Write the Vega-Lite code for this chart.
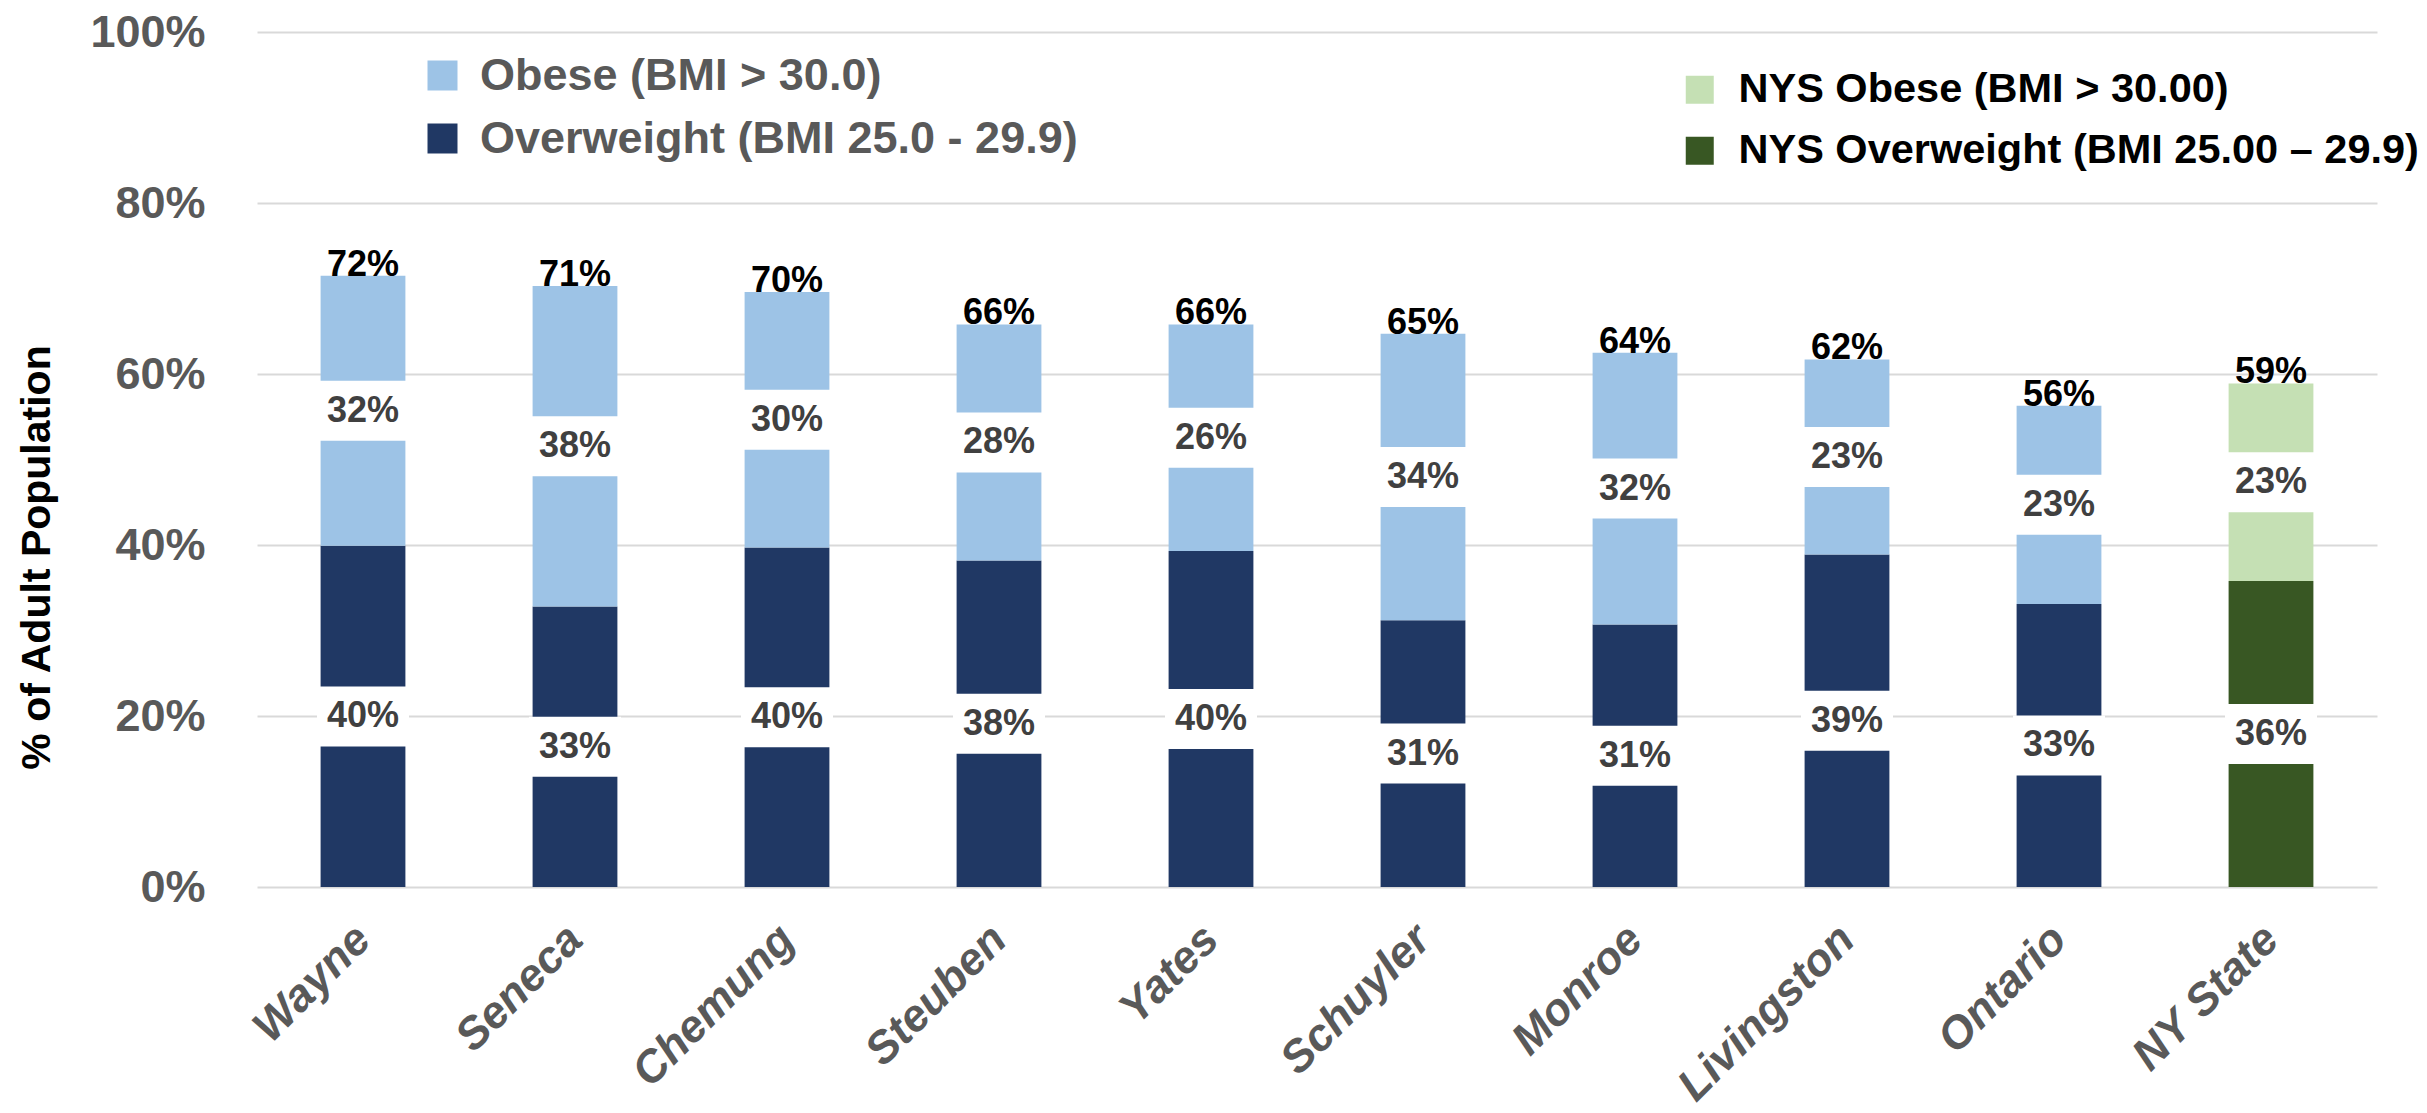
{
  "$schema": "https://vega.github.io/schema/vega-lite/v6.json",
  "width": 2120,
  "height": 855,
  "autosize": {"type": "none"},
  "padding": {"left": 257, "top": 32, "right": 50, "bottom": 226},
  "background": "white",
  "config": {"view": {"stroke": null}},
  "data": {
    "values": [
      {"county": "Wayne", "category": "Overweight (BMI 25.0 - 29.9)", "value": 39.9, "pct": 40, "total": 72},
      {"county": "Wayne", "category": "Obese (BMI > 30.0)", "value": 31.6, "pct": 32, "total": 72},
      {"county": "Seneca", "category": "Overweight (BMI 25.0 - 29.9)", "value": 32.8, "pct": 33, "total": 71},
      {"county": "Seneca", "category": "Obese (BMI > 30.0)", "value": 37.5, "pct": 38, "total": 71},
      {"county": "Chemung", "category": "Overweight (BMI 25.0 - 29.9)", "value": 39.7, "pct": 40, "total": 70},
      {"county": "Chemung", "category": "Obese (BMI > 30.0)", "value": 29.9, "pct": 30, "total": 70},
      {"county": "Steuben", "category": "Overweight (BMI 25.0 - 29.9)", "value": 38.2, "pct": 38, "total": 66},
      {"county": "Steuben", "category": "Obese (BMI > 30.0)", "value": 27.6, "pct": 28, "total": 66},
      {"county": "Yates", "category": "Overweight (BMI 25.0 - 29.9)", "value": 39.3, "pct": 40, "total": 66},
      {"county": "Yates", "category": "Obese (BMI > 30.0)", "value": 26.5, "pct": 26, "total": 66},
      {"county": "Schuyler", "category": "Overweight (BMI 25.0 - 29.9)", "value": 31.2, "pct": 31, "total": 65},
      {"county": "Schuyler", "category": "Obese (BMI > 30.0)", "value": 33.5, "pct": 34, "total": 65},
      {"county": "Monroe", "category": "Overweight (BMI 25.0 - 29.9)", "value": 30.7, "pct": 31, "total": 64},
      {"county": "Monroe", "category": "Obese (BMI > 30.0)", "value": 31.8, "pct": 32, "total": 64},
      {"county": "Livingston", "category": "Overweight (BMI 25.0 - 29.9)", "value": 38.9, "pct": 39, "total": 62},
      {"county": "Livingston", "category": "Obese (BMI > 30.0)", "value": 22.8, "pct": 23, "total": 62},
      {"county": "Ontario", "category": "Overweight (BMI 25.0 - 29.9)", "value": 33.1, "pct": 33, "total": 56},
      {"county": "Ontario", "category": "Obese (BMI > 30.0)", "value": 23.2, "pct": 23, "total": 56},
      {"county": "NY State", "category": "NYS Overweight (BMI 25.00 – 29.9)", "value": 35.8, "pct": 36, "total": 59},
      {"county": "NY State", "category": "NYS Obese (BMI > 30.00)", "value": 23.1, "pct": 23, "total": 59}
    ]
  },
  "transform": [
    {"stack": "value", "groupby": ["county"], "sort": [{"field": "category", "order": "descending"}], "as": ["y0", "y1"]},
    {"calculate": "(datum.y0 + datum.y1) / 2", "as": "mid"},
    {"calculate": "datum.pct + '%'", "as": "pctLabel"},
    {"calculate": "datum.total + '%'", "as": "totalLabel"}
  ],
  "encoding": {
    "x": {
      "field": "county",
      "type": "nominal",
      "sort": ["Wayne", "Seneca", "Chemung", "Steuben", "Yates", "Schuyler", "Monroe", "Livingston", "Ontario", "NY State"],
      "scale": {"paddingInner": 0.6, "paddingOuter": 0.3},
      "axis": {
        "title": null,
        "domain": false,
        "ticks": false,
        "labelAngle": -45,
        "labelAlign": "right",
        "labelBaseline": "middle",
        "labelPadding": 45,
        "labelFont": "Liberation Sans",
        "labelFontSize": 45,
        "labelFontWeight": "bold",
        "labelFontStyle": "italic",
        "labelColor": "#595959",
        "labelLimit": 0
      }
    }
  },
  "layer": [
    {
      "transform": [{"filter": "datum.county !== 'NY State'"}],
      "mark": {"type": "bar"},
      "encoding": {
        "y": {
          "field": "y0",
          "type": "quantitative",
          "scale": {"domain": [0, 100], "nice": false},
          "axis": {
            "values": [0, 20, 40, 60, 80, 100],
            "labelExpr": "datum.value + '%'",
            "domain": false,
            "ticks": false,
            "grid": true,
            "gridColor": "#D9D9D9",
            "gridWidth": 2,
            "labelFont": "Liberation Sans",
            "labelFontSize": 45,
            "labelFontWeight": "bold",
            "labelColor": "#595959",
            "labelPadding": 52,
            "title": "% of Adult Population",
            "titleFont": "Liberation Sans",
            "titleFontSize": 41,
            "titleFontWeight": "bold",
            "titleColor": "#000000",
            "titleAngle": -90,
            "titleBaseline": "alphabetic",
            "titleAlign": "center",
            "titleX": -208,
            "titleY": 525
          }
        },
        "y2": {"field": "y1"},
        "color": {
          "field": "category",
          "type": "nominal",
          "scale": {"domain": ["Obese (BMI > 30.0)", "Overweight (BMI 25.0 - 29.9)"], "range": ["#9DC3E6", "#203864"]},
          "legend": {
            "title": null,
            "orient": "none",
            "legendX": 163,
            "legendY": 21,
            "padding": 0,
            "symbolType": "square",
            "symbolSize": 900,
            "symbolStrokeWidth": 0,
            "symbolOpacity": 1,
            "labelFont": "Liberation Sans",
            "labelFontSize": 45,
            "labelFontWeight": "bold",
            "labelColor": "#595959",
            "labelOffset": 15,
            "labelLimit": 0,
            "rowPadding": 17
          }
        }
      }
    },
    {
      "transform": [{"filter": "datum.county === 'NY State'"}],
      "mark": {"type": "bar"},
      "encoding": {
        "y": {"field": "y0", "type": "quantitative"},
        "y2": {"field": "y1"},
        "color": {
          "field": "category",
          "type": "nominal",
          "scale": {"domain": ["NYS Obese (BMI > 30.00)", "NYS Overweight (BMI 25.00 – 29.9)"], "range": ["#C5E0B4", "#385723"]},
          "legend": {
            "title": null,
            "orient": "none",
            "legendX": 1422,
            "legendY": 37,
            "padding": 0,
            "symbolType": "square",
            "symbolSize": 784,
            "symbolStrokeWidth": 0,
            "symbolOpacity": 1,
            "labelFont": "Liberation Sans",
            "labelFontSize": 41.5,
            "labelFontWeight": "bold",
            "labelColor": "#000000",
            "labelOffset": 18,
            "labelLimit": 0,
            "rowPadding": 18,
            "encode": {
              "symbols": {
                "update": {
                  "fill": [
                    {"test": "datum.value === 'NYS Overweight (BMI 25.00 – 29.9)'", "value": "#548235"},
                    {"value": "#C5E0B4"}
                  ]
                }
              }
            }
          }
        }
      }
    },
    {
      "mark": {"type": "tick", "color": "white", "size": 92, "thickness": 60, "opacity": 1},
      "encoding": {
        "y": {"field": "mid", "type": "quantitative"}
      }
    },
    {
      "mark": {"type": "text", "font": "Liberation Sans", "fontSize": 36, "fontWeight": "bold", "color": "#404040", "baseline": "middle", "align": "center"},
      "encoding": {
        "y": {"field": "mid", "type": "quantitative"},
        "text": {"field": "pctLabel"}
      }
    },
    {
      "transform": [{"filter": "indexof(datum.category, 'Obese') >= 0"}],
      "mark": {"type": "text", "font": "Liberation Sans", "fontSize": 36, "fontWeight": "bold", "color": "#000000", "baseline": "alphabetic", "align": "center", "dy": 0},
      "encoding": {
        "y": {"field": "y1", "type": "quantitative"},
        "text": {"field": "totalLabel"}
      }
    }
  ],
  "resolve": {"scale": {"color": "independent"}, "legend": {"color": "independent"}}
}
